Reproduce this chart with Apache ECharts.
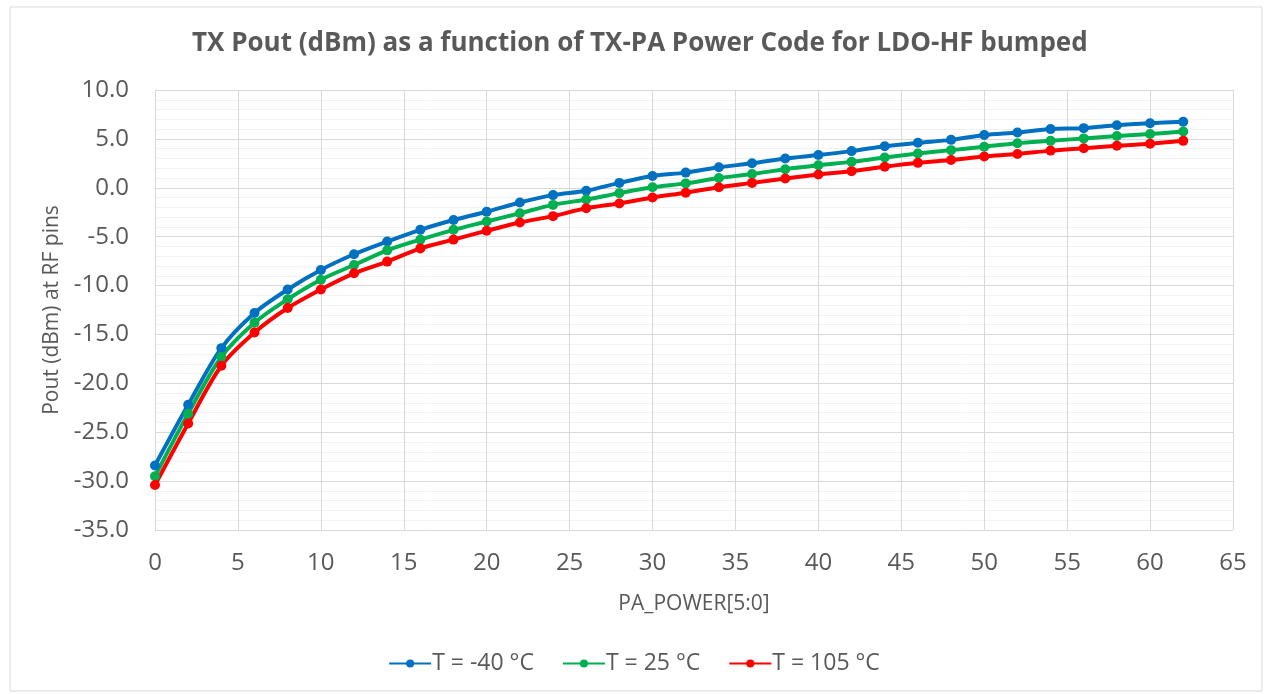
<!DOCTYPE html>
<html>
<head>
<meta charset="utf-8">
<script src="https://cdn.jsdelivr.net/npm/echarts@6/dist/echarts.min.js"></script>
<style>html,body{margin:0;padding:0;background:#fff;}#c{width:1268px;height:694px;}</style>
</head>
<body>
<div id="c"></div>
<script>
const codes = [0,2,4,6,8,10,12,14,16,18,20,22,24,26,28,30,32,34,36,38,40,42,44,46,48,50,52,54,56,58,60,62];
const tM40 = [-28.4,-22.2,-16.4,-12.8,-10.4,-8.4,-6.8,-5.5,-4.3,-3.3,-2.45,-1.5,-0.75,-0.3,0.5,1.2,1.55,2.1,2.5,3.0,3.35,3.75,4.25,4.6,4.9,5.4,5.65,6.0,6.1,6.4,6.6,6.75];
const t25 = [-29.5,-23.1,-17.3,-13.8,-11.4,-9.4,-7.9,-6.4,-5.3,-4.3,-3.45,-2.6,-1.75,-1.2,-0.55,0.05,0.45,1.0,1.4,1.9,2.3,2.65,3.1,3.5,3.85,4.2,4.55,4.8,5.05,5.3,5.5,5.75];
const t105 = [-30.4,-24.1,-18.2,-14.8,-12.3,-10.4,-8.75,-7.55,-6.2,-5.3,-4.4,-3.55,-2.9,-2.1,-1.6,-1.0,-0.5,0.05,0.5,0.95,1.35,1.7,2.15,2.55,2.85,3.2,3.45,3.8,4.05,4.3,4.5,4.8];
const seriesNames = ['T = -40 °C','T = 25 °C','T = 105 °C'];
const seriesColors = ['#0070C0','#00B050','#FF0000'];
const seriesData = [tM40, t25, t105];

const FONT = '"Open Sans", Lato, sans-serif';
const chart = echarts.init(document.getElementById('c'));
chart.setOption({
  animation: false,
  backgroundColor: '#fff',
  textStyle: { fontFamily: FONT },
  title: {
    text: 'TX Pout (dBm) as a function of TX-PA Power Code for LDO-HF bumped',
    left: 187, top: 26,
    textStyle: { fontFamily: FONT, fontSize: 26, fontWeight: 'bold', color: '#595959' }
  },
  graphic: [{
    type: 'rect', shape: { x: 10, y: 7, width: 1252, height: 684 },
    style: { fill: 'none', stroke: '#d9d9d9', lineWidth: 1 }, silent: true, z: -1
  }],
  legend: {
    bottom: 14, left: 'center', itemWidth: 42, itemHeight: 10, itemGap: 28,
    textStyle: { fontFamily: FONT, fontSize: 23, color: '#595959', padding: [0,0,0,-4] },
    data: seriesNames
  },
  grid: { left: 155, right: 35, top: 90, bottom: 164, containLabel: false },
  xAxis: {
    type: 'value', min: 0, max: 65, interval: 5,
    name: 'PA_POWER[5:0]', nameLocation: 'middle', nameGap: 64,
    nameTextStyle: { fontFamily: FONT, fontSize: 21, color: '#595959' },
    axisLine: { show: true, lineStyle: { color: '#d9d9d9', width: 1 } },
    axisTick: { show: false },
    axisLabel: { margin: 21, fontSize: 24, color: '#595959', fontFamily: FONT },
    splitLine: { show: true, lineStyle: { color: '#d9d9d9', width: 1 } }
  },
  yAxis: {
    type: 'value', min: -35, max: 10, interval: 5,
    name: 'Pout (dBm) at RF pins', nameLocation: 'middle', nameGap: 92,
    nameTextStyle: { fontFamily: FONT, fontSize: 21, color: '#595959' },
    axisLine: { show: true, lineStyle: { color: '#d9d9d9', width: 1 } },
    axisTick: { show: false },
    axisLabel: { margin: 26, fontSize: 24, color: '#595959', fontFamily: FONT,
      formatter: v => v.toFixed(1) },
    splitLine: { show: true, lineStyle: { color: '#d9d9d9', width: 1 } },
    minorTick: { show: false, splitNumber: 5 },
    minorSplitLine: { show: true, lineStyle: { color: '#f2f2f2', width: 1 } }
  },
  series: seriesData.map((d, i) => ({
    name: seriesNames[i], type: 'line', smooth: 0.3,
    data: codes.map((c, j) => [c, d[j]]),
    symbol: 'circle', symbolSize: 10,
    lineStyle: { color: seriesColors[i], width: 4 },
    itemStyle: { color: seriesColors[i] }
  }))
});
</script>
</body>
</html>
